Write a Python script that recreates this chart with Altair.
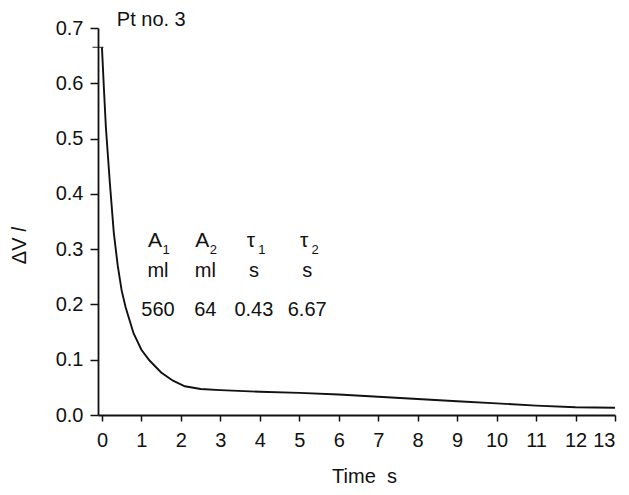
import altair as alt
import pandas as pd

# curve
time_s = [0, 0.05, 0.1, 0.2, 0.3, 0.4, 0.5, 0.6, 0.8, 1.0, 1.2, 1.5, 1.8, 2.1, 2.5,
          3, 4, 5, 6, 7, 8, 9, 10, 11, 12, 13]
delta_v = [0.665, 0.59, 0.52, 0.42, 0.33, 0.27, 0.225, 0.195, 0.148, 0.118, 0.099,
           0.077, 0.062, 0.052, 0.047, 0.045, 0.042, 0.040, 0.037, 0.033, 0.029,
           0.025, 0.021, 0.017, 0.014, 0.013]
x_ticks = list(range(0, 14))
y_ticks = [0, 0.1, 0.2, 0.3, 0.4, 0.5, 0.6, 0.7]

# parameter table
param_letters = ["A", "A", "τ", "τ"]
param_subs = ["1", "2", "1", "2"]
param_units = ["ml", "ml", "s", "s"]
param_values = ["560", "64", "0.43", "6.67"]
param_x = [1.42, 2.62, 3.85, 5.2]
row_y = [0.315, 0.26, 0.19]

label_text = ["Pt no. 3"]
label_x = [1.25]
label_y = [0.714]

FONT = "Liberation Sans"
INK = "#111111"

df = pd.DataFrame({"t": time_s, "v": delta_v})
xs = alt.Scale(domain=[-0.1, 13], nice=False, zero=False)
ys = alt.Scale(domain=[0, 0.7], nice=False)

x_axis = alt.Axis(values=x_ticks, format="d", tickSize=6, labelPadding=9,
                  titlePadding=16, grid=False, labelOverlap=False, titleX=266)
y_axis = alt.Axis(values=y_ticks, format=".1f", tickSize=8, labelPadding=7,
                  grid=False, labelOverlap=False,
                  titleX=-79, titleY=217, titleBaseline="middle")


def xe(f):
    return alt.X(f, scale=xs, axis=x_axis, title="Time\u00a0\u00a0s")


def ye(f):
    return alt.Y(f, scale=ys, axis=y_axis, title="ΔV 𝑙")


line = alt.Chart(df).mark_line(color=INK, strokeWidth=1.9).encode(
    x=xe("t:Q"), y=ye("v:Q"))

start_mark = alt.Chart(pd.DataFrame({"t": [-0.1], "v": [0.665]})).mark_tick(
    orient="horizontal", color=INK, size=11, thickness=1.3).encode(
    x=xe("t:Q"), y=ye("v:Q"))

lab = alt.Chart(pd.DataFrame({"t": label_x, "v": label_y, "s": label_text})).mark_text(
    font=FONT, fontSize=20, color=INK, baseline="middle").encode(
    x=xe("t:Q"), y=ye("v:Q"), text="s:N")

hdr = pd.DataFrame({"t": param_x, "l": param_letters, "s": param_subs,
                    "u": param_units, "val": param_values,
                    "v0": [row_y[0]] * 4, "v1": [row_y[1]] * 4, "v2": [row_y[2]] * 4})

letters = alt.Chart(hdr).mark_text(font=FONT, fontSize=21, color=INK,
                                   baseline="middle", dx=-3).encode(
    x=xe("t:Q"), y=ye("v0:Q"), text="l:N")
subs = alt.Chart(hdr).mark_text(font=FONT, fontSize=13, color=INK,
                                baseline="middle", dx=8, dy=9).encode(
    x=xe("t:Q"), y=ye("v0:Q"), text="s:N")
units = alt.Chart(hdr).mark_text(font=FONT, fontSize=20, color=INK,
                                 baseline="middle").encode(
    x=xe("t:Q"), y=ye("v1:Q"), text="u:N")
vals = alt.Chart(hdr).mark_text(font=FONT, fontSize=20, color=INK,
                                baseline="middle").encode(
    x=xe("t:Q"), y=ye("v2:Q"), text="val:N")

chart = alt.layer(line, start_mark, lab, letters, subs, units, vals).properties(
    width=517, height=387,
    autosize=alt.AutoSizeParams(type="none"),
    padding={"left": 90, "top": 20, "right": 6, "bottom": 72},
    background="white",
).configure_view(stroke=None).configure_axis(
    domainColor=INK, domainWidth=1.8, tickColor=INK, tickWidth=1.5,
    labelFont=FONT, labelFontSize=20, labelColor=INK,
    titleFont=FONT, titleFontSize=20, titleColor=INK, titleFontWeight="normal",
)

chart.save("out.html", embed_options={"renderer": "svg", "actions": False})
